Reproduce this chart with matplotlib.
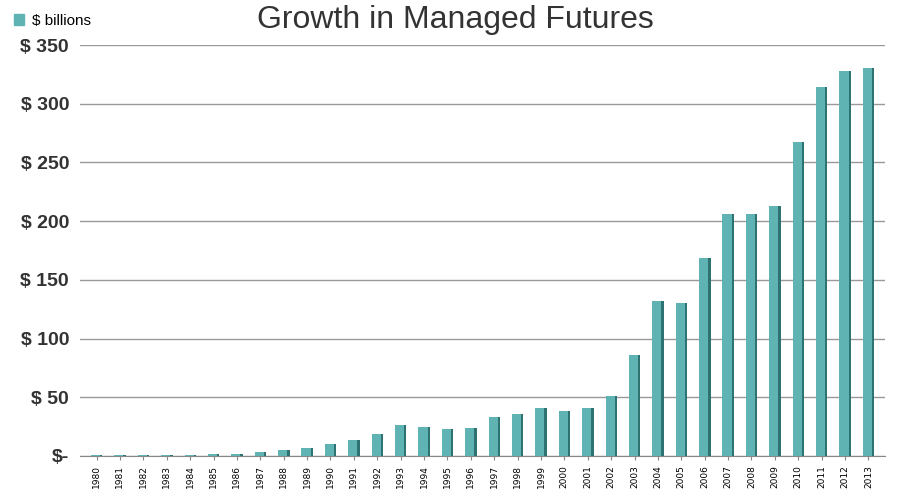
import matplotlib
matplotlib.use("Agg")
import matplotlib.pyplot as plt
import numpy as np
from matplotlib.patches import Patch

plt.rcParams["font.family"] = "Liberation Sans"

years = [str(y) for y in range(1980, 2014)]
values = [0.5, 0.6, 0.8, 0.8, 1, 1.5, 2, 3.5, 5, 6.5, 10, 14, 19, 26, 25, 23, 24, 33, 36, 41,
          38, 41, 51, 86, 132, 130, 169, 206, 206, 213, 267, 314, 328, 330]
ytick_labels = ["$-", "$ 50", "$ 100", "$ 150", "$ 200", "$ 250", "$ 300", "$ 350"]

fig = plt.figure(figsize=(9.01, 5.0), dpi=100)
ax = fig.add_axes([0.089, 0.088, 0.893, 0.822])
x = np.arange(len(years))
w = 0.4
ax.bar(x - 0.04, values, width=w, color="#5fb3b3", zorder=3)
ax.bar(x + w / 2 + 0.0, values, width=0.1, color="#2f7272", zorder=3)
ax.set_xlim(-0.7, len(years) - 0.3)
ax.set_ylim(0, 350)
ax.set_yticks(range(0, 351, 50))
ax.set_yticklabels(ytick_labels, fontsize=14, fontweight="bold", color="#333333")
ax.set_xticks(x)
ax.set_xticklabels(years, rotation=90, fontsize=6.5, fontname="Liberation Sans Narrow")
ax.grid(axis="y", color="#999999", linewidth=1, zorder=0)
for s in ["top", "right", "left"]:
    ax.spines[s].set_visible(False)
ax.spines["bottom"].set_color("#888888")
ax.tick_params(axis="y", length=0, pad=8)
ax.tick_params(axis="x", length=3, color="#888888")
fig.text(0.505, 0.96, "Growth in Managed Futures", ha="center", va="center",
         fontsize=23, color="#333333")
fig.legend(handles=[Patch(color="#5fb3b3", label="$ billions")], loc="upper left",
           bbox_to_anchor=(0.0, 1.0), frameon=False, fontsize=11, handlelength=0.7,
           handleheight=0.7, handletextpad=0.5)
fig.savefig("out.png", dpi=100)
